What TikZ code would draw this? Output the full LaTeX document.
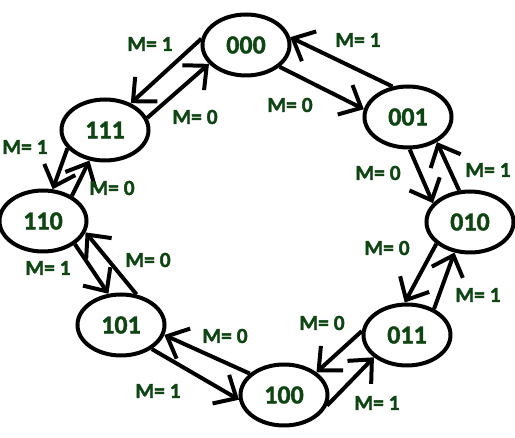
\documentclass[tikz,border=0pt]{standalone}
\usepackage{fontspec}
\setmainfont{Carlito}[BoldFont={Carlito Bold},BoldFeatures={FakeBold=1.5}]
\usetikzlibrary{shapes.geometric,arrows.meta}
\definecolor{txtgreen}{HTML}{0F4512}
\tikzset{
  state/.style={ellipse,draw=black,line width=4pt,minimum width=87pt,minimum height=61pt,inner sep=0pt,
    font=\fontsize{26}{26}\selectfont\bfseries,text=txtgreen},
  lbl/.style={font=\fontsize{21.5}{21.5}\selectfont\bfseries,text=txtgreen,inner sep=0pt},
  arr/.style={line width=4pt,-{Straight Barb[length=18pt,width=33pt,line width=4pt]}}
}
\begin{document}
\begin{tikzpicture}[x=1pt,y=-1pt]
\useasboundingbox (0,0) rectangle (515,438);
\node[state] (s000) at (246,45) {000};
\node[state] (s001) at (408,117) {001};
\node[state] (s111) at (105,130) {111};
\node[state] (s110) at (43,221) {110};
\node[state] (s010) at (470,222) {010};
\node[state] (s101) at (121,325) {101};
\node[state] (s011) at (407,335) {011};
\node[state] (s100) at (284,395) {100};

\draw[arr] (s000.172) -- (s111.46);
\draw[arr] (s111.16) -- (s000.207);
\draw[arr] (s111.206) -- (s110.73);
\draw[arr] (s110.41) -- (s111.243);
\draw[arr] (s001.117) -- (s000.10);
\draw[arr] (s000.-33) -- (s001.170);
\draw[arr] (s001.-87) -- (s010.153);
\draw[arr] (s010.109) -- (s001.-41);
\draw[arr] (s110.-36) -- (s101.112);
\draw[arr] (s101.63) -- (s110.-15);
\draw[arr] (s100.148) -- (s101.-13);
\draw[arr] (s101.-38) -- (s100.186);
\draw[arr] (s010.213) -- (s011.94);
\draw[arr] (s011.44) -- (s010.243);
\draw[arr] (s011.175) -- (s100.35);
\draw[arr] (s100.-14) -- (s011.214);

\node[lbl] (l1) at (150,44) {M= 1};
\node[lbl] (l2) at (195,117) {M= 0};
\node[lbl] (l3) at (25,147) {M= 1};
\node[lbl] (l4) at (112,188) {M= 0};
\node[lbl] (l5) at (358,40) {M= 1};
\node[lbl] (l6) at (290,105) {M= 0};
\node[lbl] (l7) at (378,173) {M= 0};
\node[lbl] (l8) at (488,170) {M= 1};
\node[lbl] (l9) at (48,268) {M= 1};
\node[lbl] (l10) at (148,260) {M= 0};
\node[lbl] (l11) at (225,336) {M= 0};
\node[lbl] (l12) at (158,391) {M= 1};
\node[lbl] (l13) at (387,248) {M= 0};
\node[lbl] (l14) at (478,295) {M= 1};
\node[lbl] (l15) at (322,323) {M= 0};
\node[lbl] (l16) at (377,403) {M= 1};
\end{tikzpicture}
\end{document}
